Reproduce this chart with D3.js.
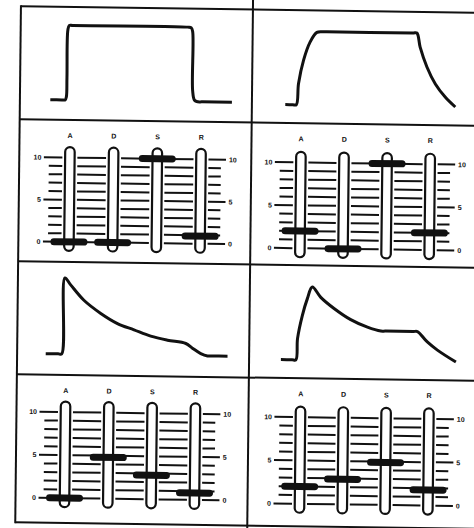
<!DOCTYPE html>
<meta charset="utf-8">
<style>
  body { margin: 0; background: #fff; }
  svg { display: block; }
  .lbl { font: bold 7px "Liberation Sans", Arial, sans-serif; fill: #111; }
</style>
<body>
<div id="chart"></div>
<script src="https://d3js.org/d3.v7.min.js"></script>
<script>

// envelope outlines, [time 0-100, level 0-10]
var squareEnv = [[1.2,0],[7,0],[8.6,0],[9.2,0.4],[9.4,3],[9.6,9.4],[10.3,10],[12,10],[69.5,10],[71.3,9.9],[72,9.4],[72.3,1.5],[73.3,0.2],[75,0],[77,0],[92,0]];
var slowEnv   = [[2.7,0],[6.5,0],[8.2,0],[9.2,2.9],[11.6,6.1],[14.8,8.6],[18.1,9.9],[21,10],[23,10],[66,10],[68.1,10],[69.8,8.1],[73.3,5.4],[77.6,3.1],[82.7,1.3],[87.7,0]];
var pluckEnv  = [[0.3,0],[6.5,0],[8.3,0],[9.5,10],[12.4,9.1],[19.1,7.1],[27.6,5.4],[36,4.1],[44.3,3.3],[52.7,2.5],[61.1,2.0],[70.3,1.6],[73.6,1.0],[77.8,0.3],[81.2,0],[83,0],[91.2,0]];
var fullEnv   = [[1.9,0],[7.5,0],[9.4,0],[10.1,2.9],[12.4,6.1],[14.8,8.4],[17.2,10],[21.5,8.6],[28.2,7.1],[36.6,5.6],[45,4.6],[51.7,4.1],[54,4.1],[68,4.1],[70,4.1],[75,2.7],[80.1,1.6],[89.4,0]];

// slider settings A, D, S, R
var sliderNames = ["A", "D", "S", "R"];
var squareSliders = [0, 0, 10, 0.9];
var slowSliders   = [2, 0, 10, 2];
var pluckSliders  = [0, 4.8, 2.8, 0.8];
var fullSliders   = [2, 2.9, 4.9, 1.8];

var sliderTicks = [0, 1, 2, 3, 4, 5, 6, 7, 8, 9, 10];
var tickLabels = [10, 5, 0];

var width = 474, height = 528;
var ink = "#111";

// the scan sits a little crooked on the page
var svg = d3.select("#chart").append("svg")
    .attr("width", width)
    .attr("height", height);
var g = svg.append("g").attr("transform", "matrix(1,0.014,-0.011,1,0,0)");

var colLeft = [21, 253];
var rowTop = [6, 119, 261, 374, 522];

// grid
g.selectAll(".hline").data(rowTop).enter().append("line")
    .attr("x1", 21).attr("x2", 490)
    .attr("y1", function(d) { return d; }).attr("y2", function(d) { return d; })
    .attr("stroke", ink).attr("stroke-width", 2);
g.append("line").attr("x1", 21).attr("x2", 21).attr("y1", 5).attr("y2", 523)
    .attr("stroke", ink).attr("stroke-width", 2);
g.append("line").attr("x1", 253).attr("x2", 253).attr("y1", -4).attr("y2", 534)
    .attr("stroke", ink).attr("stroke-width", 2);

var cells = [
  {col: 0, envTop: rowTop[0], env: squareEnv, base: 93, peak: 18.5, sTop: rowTop[1], sliders: squareSliders, s0: 121.9, s10: 37.6, a: 50.6, sp: 43.7},
  {col: 1, envTop: rowTop[0], env: slowEnv,   base: 94.6, peak: 21.2, sTop: rowTop[1], sliders: slowSliders, s0: 125, s10: 39.2, a: 49.6, sp: 43.1},
  {col: 0, envTop: rowTop[2], env: pluckEnv,  base: 92, peak: 16, sTop: rowTop[3], sliders: pluckSliders, s0: 123.1, s10: 37.1, a: 49, sp: 43.3},
  {col: 1, envTop: rowTop[2], env: fullEnv,   base: 94.6, peak: 21.6, sTop: rowTop[3], sliders: fullSliders, s0: 125.5, s10: 38.9, a: 52, sp: 42.8}
];

cells.forEach(function(c) {
  var left = colLeft[c.col];

  // envelope curve
  var x = d3.scaleLinear().domain([0, 100]).range([left + 28, left + 228]);
  var y = d3.scaleLinear().domain([0, 10]).range([c.envTop + c.base, c.envTop + c.peak]);
  var line = d3.line()
      .x(function(d) { return x(d[0]); })
      .y(function(d) { return y(d[1]); })
      .curve(d3.curveCatmullRom.alpha(0.5));
  g.append("path")
      .datum(c.env)
      .attr("d", line)
      .attr("fill", "none")
      .attr("stroke", ink)
      .attr("stroke-width", 3)
      .attr("stroke-linejoin", "round");

  // slider panel
  var xs = d3.scalePoint().domain(sliderNames).range([left + c.a, left + c.a + 3 * c.sp]);
  var ys = d3.scaleLinear().domain([0, 10]).range([c.sTop + c.s0, c.sTop + c.s10]);
  var p = g.append("g");

  p.selectAll(".name").data(sliderNames).enter().append("text")
      .attr("class", "lbl")
      .attr("x", function(d) { return xs(d); })
      .attr("y", c.sTop + 18)
      .attr("text-anchor", "middle")
      .text(function(d) { return d; });

  // tick rows: left of A, between tracks, right of R
  var segs = [];
  sliderTicks.forEach(function(t) {
    var major = tickLabels.indexOf(t) >= 0;
    segs.push({t: t, x1: xs("A") - (major ? 26 : 21), x2: xs("A") - 7.5});
    for (var i = 0; i < 3; i++) {
      segs.push({t: t, x1: xs(sliderNames[i]) + 7.5, x2: xs(sliderNames[i + 1]) - 7.5});
    }
    segs.push({t: t, x1: xs("R") + 7.5, x2: xs("R") + (major ? 25 : 20)});
  });
  p.selectAll(".tick").data(segs).enter().append("line")
      .attr("x1", function(d) { return d.x1; })
      .attr("x2", function(d) { return d.x2; })
      .attr("y1", function(d) { return ys(d.t); })
      .attr("y2", function(d) { return ys(d.t); })
      .attr("stroke", ink).attr("stroke-width", 2);

  p.selectAll(".lt").data(tickLabels).enter().append("text")
      .attr("class", "lbl")
      .attr("x", xs("A") - 28.5)
      .attr("y", function(d) { return ys(d) + 2.5; })
      .attr("text-anchor", "end")
      .text(function(d) { return d; });
  p.selectAll(".rt").data(tickLabels).enter().append("text")
      .attr("class", "lbl")
      .attr("x", xs("R") + 28)
      .attr("y", function(d) { return ys(d) + 2.5; })
      .text(function(d) { return d; });

  // tracks
  p.selectAll(".track").data(sliderNames).enter().append("rect")
      .attr("x", function(d) { return xs(d) - 4.75; })
      .attr("y", ys(10) - 10.5)
      .attr("width", 9.5)
      .attr("height", ys(0) - ys(10) + 19.5)
      .attr("rx", 4.75)
      .attr("fill", "#fff")
      .attr("stroke", ink)
      .attr("stroke-width", 2.2);

  // knobs
  p.selectAll(".knob").data(c.sliders).enter().append("rect")
      .attr("x", function(d, i) { return xs(sliderNames[i]) - 18.5; })
      .attr("y", function(d) { return ys(d) - 3.5; })
      .attr("width", 37)
      .attr("height", 7)
      .attr("rx", 3.5)
      .attr("fill", ink);
});

</script>
</body>
